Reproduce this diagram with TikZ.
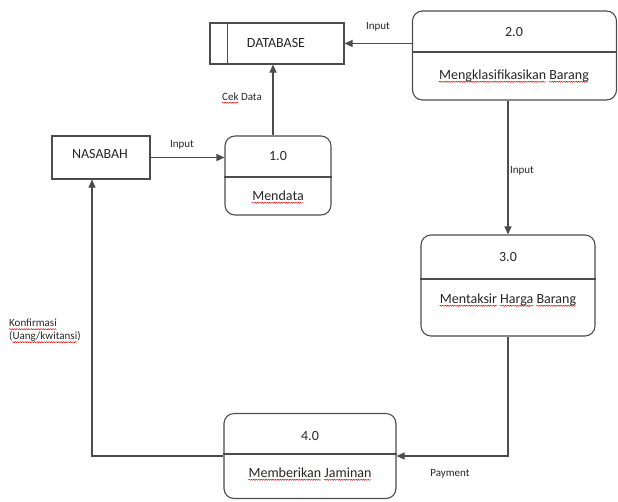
\documentclass[tikz,border=0pt]{standalone}
\usepackage{fontspec}
\setmainfont{Carlito}
\usetikzlibrary{arrows.meta,decorations.pathmorphing}
\newsavebox\sqbox
\newcommand{\sq}[1]{\sbox\sqbox{#1}\usebox\sqbox\llap{\tikz[baseline=0pt]{\draw[red!85!black,line width=0.45pt,decorate,decoration={snake,amplitude=0.6pt,segment length=2.4pt}] (0pt,-2.6pt) -- (\wd\sqbox,-2.6pt);}}}
\begin{document}
\begin{tikzpicture}[x=1pt,y=-1pt,
  line width=1.1pt,
  edge/.style={draw=black!70},
  arr/.style={edge,-{Triangle[length=8pt,width=7pt]}},
  proc/.style={draw=black!70,rounded corners=10pt,rectangle,inner sep=0pt},
  ent/.style={draw=black!70,rectangle,inner sep=0pt},
  big/.style={text=black!85,font=\fontsize{14}{16}\selectfont,inner sep=0pt},
  small/.style={text=black!85,font=\fontsize{11}{13}\selectfont,inner sep=0pt,align=left}]
\useasboundingbox (0,0) rectangle (618,501);
% entities
\node[ent,minimum width=134pt,minimum height=41pt] (db) at (277,43.5) {};
\node[ent,minimum width=98pt,minimum height=43pt] (nas) at (101,157.5) {};
% processes
\node[proc,minimum width=204pt,minimum height=89pt] (p2) at (514.5,55.5) {};
\node[proc,minimum width=106pt,minimum height=79pt] (p1) at (278,175.5) {};
\node[proc,minimum width=174pt,minimum height=101pt] (p3) at (508,285.5) {};
\node[proc,minimum width=172pt,minimum height=85pt] (p4) at (310,456) {};
% dividers
\draw[edge] (db.north west) ++(18,0) coordinate (dbi) -- (dbi |- db.south);
\draw[edge] (p2.west |- 0,52) -- (p2.east |- 0,52);
\draw[edge] (p1.west |- 0,177) -- (p1.east |- 0,177);
\draw[edge] (p3.west |- 0,279) -- (p3.east |- 0,279);
\draw[edge] (p4.west |- 0,454) -- (p4.east |- 0,454);
% texts
\node[big] (tdb) at (276,43) {DATABASE};
\node[big] (tnas) at (100,154) {NASABAH};
\node[big] (t2a) at (514,32) {2.0};
\node[big] (t2b) at (514,76) {\sq{Mengklasifikasikan} \sq{Barang}};
\node[big] (t1a) at (278,156) {1.0};
\node[big] (t1b) at (278,197) {\sq{Mendata}};
\node[big] (t3a) at (508,257) {3.0};
\node[big] (t3b) at (508,300) {\sq{Mentaksir} \sq{Harga} \sq{Barang}};
\node[big] (t4a) at (310,436) {4.0};
\node[big] (t4b) at (310,474) {\sq{Memberikan} \sq{Jaminan}};
% connectors
\draw[arr] (p2.west |- db.east) -- (db.east);
\draw[arr] ([xshift=-5pt]p1.north) -- ([xshift=-5pt]p1.north |- db.south);
\draw[arr] (nas.east) -- (nas.east -| p1.west);
\draw[arr] (p3.north |- p2.south) -- (p3.north);
\draw[arr] (p3.south) |- (p4.east);
\draw[arr] (p4.west) -| ([xshift=-9pt]nas.south);
% labels
\node[small] (l1) at (378,27) {Input};
\node[small] (l2) at (242,98) {\sq{Cek} Data};
\node[small] (l3) at (182,145) {Input};
\node[small] (l4) at (522,171) {Input};
\node[small] (l5) at (450,474) {Payment};
\node[small,anchor=west] (l6) at (9,331) {\sq{Konfirmasi}\\(\sq{Uang/kwitansi})};
\end{tikzpicture}
\end{document}
